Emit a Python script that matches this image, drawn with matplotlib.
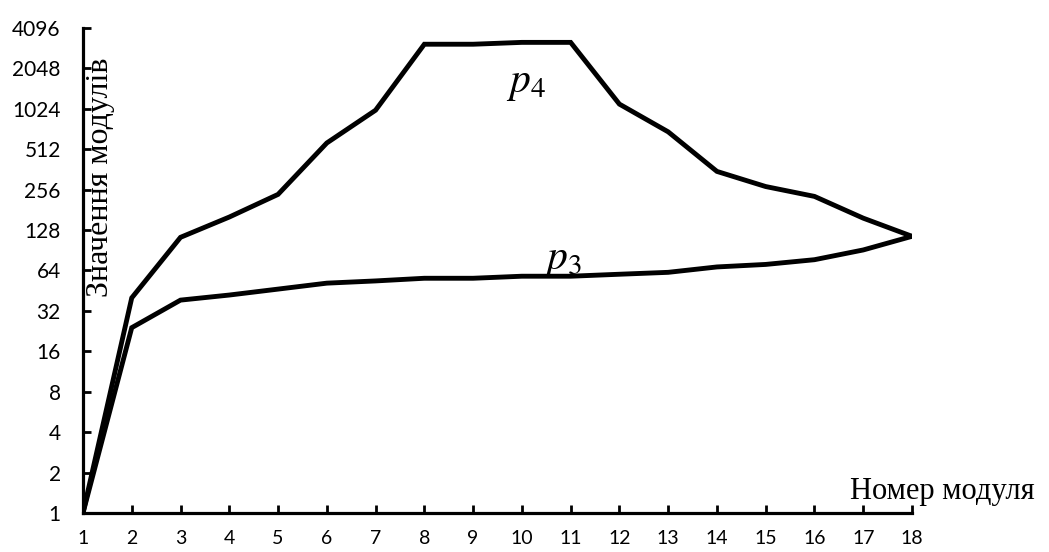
import matplotlib
matplotlib.use('Agg')
import matplotlib.pyplot as plt
from matplotlib.ticker import FixedLocator, FixedFormatter

plt.rcParams['mathtext.fontset'] = 'stix'

modules = list(range(1, 19))
p4 = [1, 40, 113, 160, 236, 570, 1000, 3100, 3100, 3200, 3200, 1110, 690, 350, 270, 228, 157, 115]
p3 = [1, 24, 38.5, 42, 46.5, 51.5, 53.5, 56, 56, 58, 58, 60, 62, 68, 71, 77, 91, 115]
yticks = [1, 2, 4, 8, 16, 32, 64, 128, 256, 512, 1024, 2048, 4096]

fig = plt.figure(figsize=(10.49, 5.52), dpi=100)
ax = fig.add_axes([0.0791, 0.0707, 0.7903, 0.8786])

ax.plot(modules, p4, color='black', lw=3.5, solid_joinstyle='miter')
ax.plot(modules, p3, color='black', lw=3.5, solid_joinstyle='miter')

ax.set_yscale('log', base=2)
ax.set_ylim(1, 4096)
ax.set_xlim(1, 18)
ax.yaxis.set_major_locator(FixedLocator(yticks))
ax.yaxis.set_major_formatter(FixedFormatter([str(v) for v in yticks]))
ax.yaxis.set_minor_locator(FixedLocator([]))
ax.set_xticks(modules)
ax.set_xticklabels([str(m) for m in modules])

for s in ['top', 'right']:
    ax.spines[s].set_visible(False)
for s in ['left', 'bottom']:
    ax.spines[s].set_linewidth(2.3)
ax.tick_params(direction='in', length=6, width=2, labelsize=15)
ax.tick_params(axis='y', pad=16)
ax.tick_params(axis='x', pad=12, labelsize=14)
for lab in ax.get_xticklabels() + ax.get_yticklabels():
    lab.set_family('Lato')

ax.text(0.004, 0.94, 'Значення модулів', transform=ax.transAxes, rotation=90,
        ha='left', va='top', family='Liberation Serif', fontsize=23)
fig.text(0.810, 0.096, 'Номер модуля', ha='left', va='baseline',
         family='Liberation Serif', fontsize=22)

ax.text(9.68, 1370, '$p_4$', fontsize=30, ha='left', va='baseline')
ax.text(10.44, 66, '$p_3$', fontsize=30, ha='left', va='baseline')

fig.savefig('out.png', dpi=100)
